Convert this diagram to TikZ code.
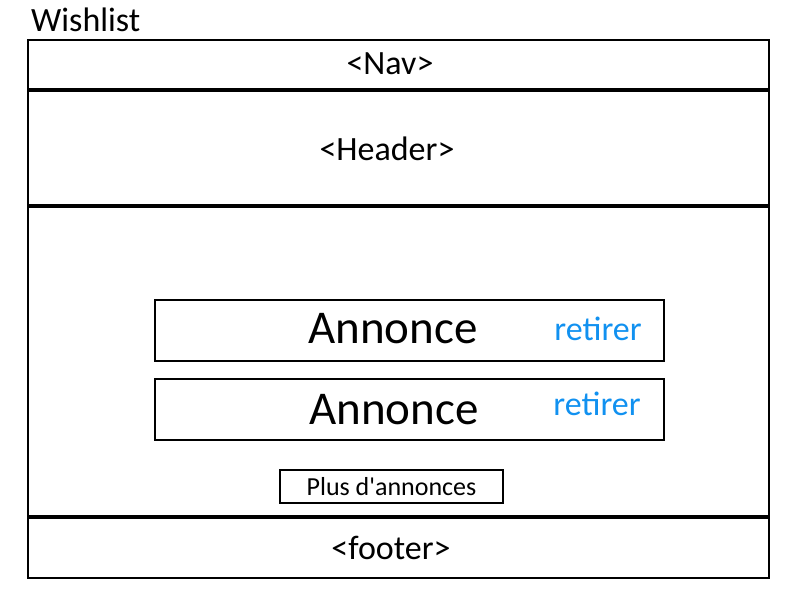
\documentclass[tikz,border=0pt]{standalone}
\usepackage{fontspec}
\setmainfont{Carlito}
\definecolor{linkblue}{RGB}{17,145,240}
\tikzset{
  frame/.style={draw=black, line width=2pt},
  sep/.style={draw=black, line width=4.5pt},
  card/.style={draw=black, line width=2pt, minimum width=509pt, minimum height=61pt, inner sep=0pt},
  btn/.style={draw=black, line width=1.5pt, minimum width=223pt, minimum height=33pt, inner sep=0pt},
  lbl/.style={inner sep=0pt, anchor=center},
}
\begin{document}
\begin{tikzpicture}[x=1pt, y=-1pt]
\useasboundingbox (0,0) rectangle (800,600);
\node[lbl, anchor=west] (title) at (31,20) {\fontsize{34}{37}\selectfont Wishlist};
\draw[frame] (28,40) rectangle (769,578);
\coordinate (s1a) at (28,90); \coordinate (s1b) at (770,90);
\coordinate (s2a) at (28,206); \coordinate (s2b) at (770,206);
\coordinate (s3a) at (28,517); \coordinate (s3b) at (770,517);
\draw[sep] (s1a) -- (s1b);
\draw[sep] (s2a) -- (s2b);
\draw[sep] (s3a) -- (s3b);
\node[lbl] (nav) at (390,64) {\fontsize{34}{38}\selectfont <Nav>};
\node[lbl] (header) at (387,149) {\fontsize{34}{38}\selectfont <Header>};
\node[card] (c1) at (409.5,330.5) {};
\node[card] (c2) at (409.5,409.5) {};
\node[lbl] (a1) at (393,329) {\fontsize{47}{50}\selectfont Annonce};
\node[lbl] (a2) at (394,410) {\fontsize{47}{50}\selectfont Annonce};
\node[lbl, text=linkblue] (r1) at (598,329) {\fontsize{34}{38}\selectfont retirer};
\node[lbl, text=linkblue] (r2) at (597,404) {\fontsize{34}{38}\selectfont retirer};
\node[btn] (more) at (391.5,486.5) {\fontsize{26}{30}\selectfont Plus d\textquotesingle annonces};
\node[lbl] (footer) at (391,548) {\fontsize{34}{38}\selectfont <footer>};
\end{tikzpicture}
\end{document}
